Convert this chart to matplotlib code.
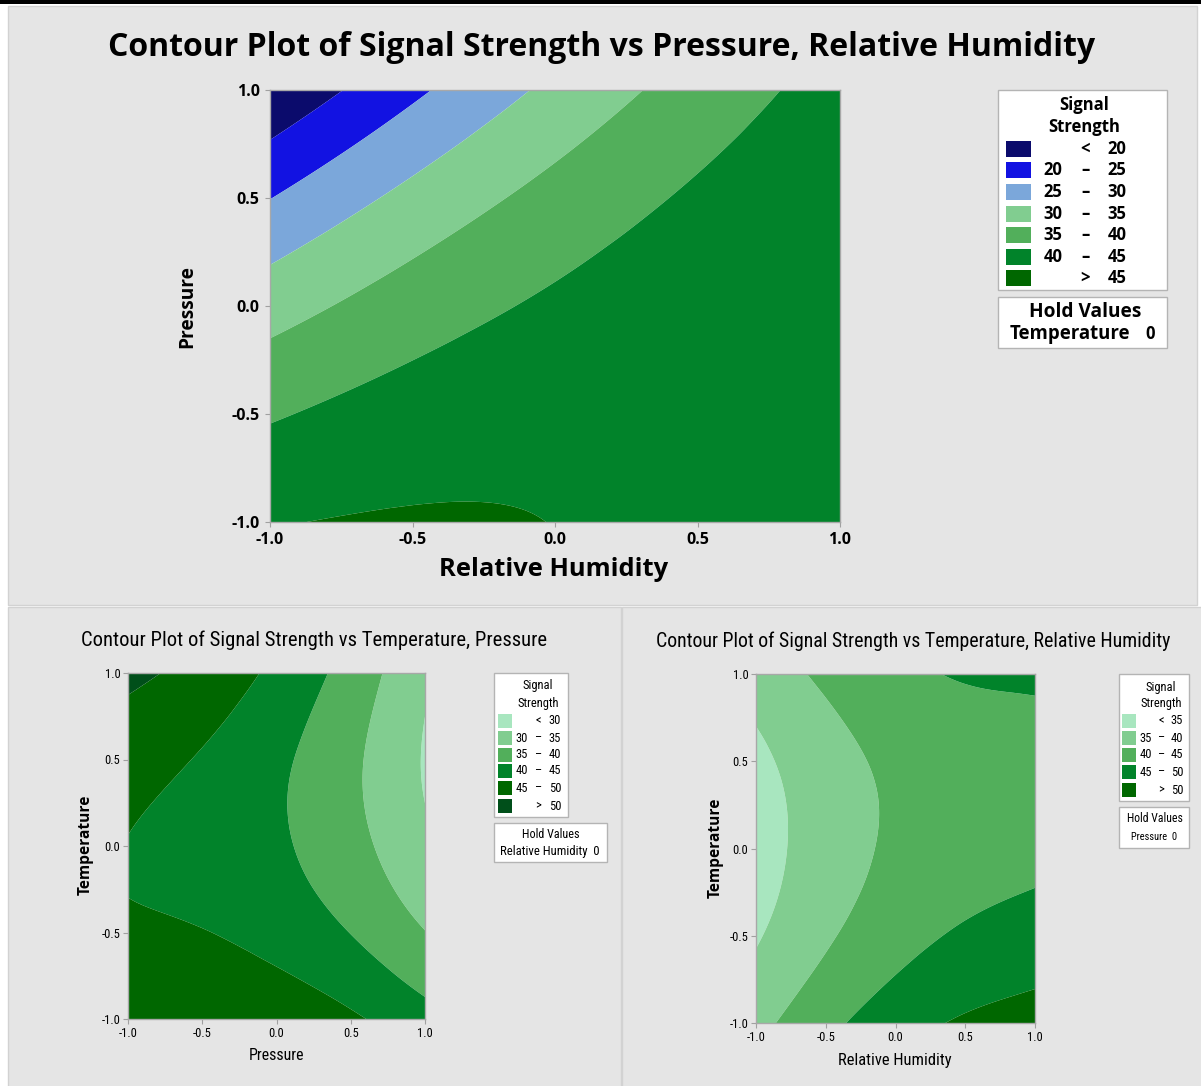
import numpy as np
import matplotlib
matplotlib.use("Agg")
import matplotlib.pyplot as plt
import matplotlib.tri as mtri
from matplotlib import font_manager
from matplotlib.font_manager import FontProperties
from matplotlib.patches import Rectangle

# ---------------- data ----------------
grid_vals = [-1.0, -0.5, 0.0, 0.5, 1.0]
tick_vals = [-1.0, -0.5, 0.0, 0.5, 1.0]
tick_labels = ["-1.0", "-0.5", "0.0", "0.5", "1.0"]

# Panel 1: rows = Pressure (-1 .. 1), cols = Relative Humidity (-1 .. 1), Temperature held at 0
signal_p_rh = [
    [44.71, 45.44, 44.93, 43.17, 40.17],
    [39.48, 42.14, 43.55, 43.72, 42.65],
    [32.87, 37.46, 40.80, 42.90, 43.75],
    [24.89, 31.40, 36.67, 40.70, 43.48],
    [15.53, 23.97, 31.17, 37.12, 41.83],
]
bounds_1 = [20, 25, 30, 35, 40, 45]
colors_1 = ["#0b0b6c", "#1212e2", "#7ba7da", "#81cd90", "#52af5b", "#01832a", "#006700"]

# Panel 2: rows = Temperature (-1 .. 1), cols = Pressure (-1 .. 1), Relative Humidity held at 0
signal_t_p = [
    [49.01, 49.34, 48.26, 45.75, 41.83],
    [45.65, 45.15, 43.24, 39.90, 35.14],
    [44.91, 43.58, 40.83, 36.66, 31.08],
    [46.78, 44.62, 41.04, 36.04, 29.62],
    [51.26, 48.27, 43.86, 38.03, 30.79],
]
bounds_2 = [30, 35, 40, 45, 50]
colors_2 = ["#a8e6bf", "#81cd90", "#52af5b", "#01832a", "#006700", "#004f1a"]

# Panel 3: rows = Temperature (-1 .. 1), cols = Relative Humidity (-1 .. 1), Pressure held at 0
signal_t_rh = [
    [38.54, 43.65, 47.79, 50.65, 52.24],
    [34.53, 39.31, 43.12, 45.65, 46.91],
    [32.97, 37.42, 40.90, 43.10, 44.03],
    [33.86, 37.98, 41.13, 43.00, 43.60],
    [37.20, 40.99, 43.81, 45.35, 45.62],
]
bounds_3 = [35, 40, 45, 50]
colors_3 = ["#a8e6bf", "#81cd90", "#52af5b", "#01832a", "#006700"]

# ---------------- fonts ----------------
ttf = font_manager.fontManager.ttflist


def pick_condensed():
    cands = [f for f in ttf
             if (f.stretch in ("condensed", "semi-condensed")
                 or "Narrow" in f.name or "Condensed" in f.name)
             and f.style == "normal" and f.weight in (400, "normal", "regular")]
    pref = ["Liberation Sans Narrow", "Roboto Condensed", "Open Sans Condensed",
            "Noto Sans", "Noto Sans Condensed", "DejaVu Sans", "Lato"]
    for p in pref:
        for f in cands:
            if f.name == p:
                return FontProperties(fname=f.fname)
    if cands:
        return FontProperties(fname=cands[0].fname)
    return FontProperties(family="Open Sans")


COND = pick_condensed()
SEMI = FontProperties(family="Open Sans", weight="bold")

W, H = 1201, 1086
fig = plt.figure(figsize=(W / 100, H / 100), dpi=100)
fig.patch.set_facecolor("white")
renderer = fig.canvas.get_renderer()


def fx(x):
    return x / W


def fy(y):
    return 1 - y / H


def txt(x, y, s, size, fp, fit=None, rot=0, ha="center", va="center"):
    t = fig.text(fx(x), fy(y), s, rotation=rot, ha=ha, va=va, color="black")
    t.set_fontproperties(fp.copy())
    t.set_fontsize(size)
    if fit:
        bb = t.get_window_extent(renderer)
        cur = bb.height if rot == 90 else bb.width
        t.set_fontsize(size * fit / cur)
    return t


def rect(l, t, r, b, fc, ec="none", lw=1.0, z=1):
    fig.add_artist(Rectangle((fx(l), fy(b)), (r - l) / W, (b - t) / H,
                             transform=fig.transFigure, facecolor=fc,
                             edgecolor=ec, linewidth=lw, zorder=z))


# ---------------- backgrounds ----------------
BG = "#e5e5e5"
rect(0, 0, W, 4, "black", z=-2)
rect(8, 6, 1197, 605, BG, ec="#d2d2d2", z=-2)
rect(8, 607, 621, H + 2, BG, ec="#d2d2d2", z=-2)
rect(622, 607, W + 2, H + 2, BG, ec="#d2d2d2", z=-2)


def make_axes(l, r, t, b, fp, fsize, pad):
    ax = fig.add_axes([fx(l), fy(b), (r - l) / W, (b - t) / H])
    ax.set_xlim(-1, 1)
    ax.set_ylim(-1, 1)
    ax.set_xticks(tick_vals)
    ax.set_yticks(tick_vals)
    ax.set_xticklabels(tick_labels)
    ax.set_yticklabels(tick_labels)
    for lab in ax.get_xticklabels() + ax.get_yticklabels():
        lab.set_fontproperties(fp.copy())
        lab.set_fontsize(fsize)
    ax.tick_params(direction="out", length=3.5, width=0.8, color="#a0a0a0",
                   pad=pad, labelcolor="black")
    for sp in ax.spines.values():
        sp.set_color("#a8a8a8")
        sp.set_linewidth(1.0)
    return ax


def draw_contour(ax, Z, bounds, colors):
    X, Y = np.meshgrid(grid_vals, grid_vals)
    tri = mtri.Triangulation(X.ravel(), Y.ravel())
    ref = mtri.UniformTriRefiner(tri)
    tr, zr = ref.refine_field(np.asarray(Z, float).ravel(), subdiv=5)
    lev = [zr.min() - 1] + list(bounds) + [zr.max() + 1]
    ax.tricontourf(tr, zr, levels=lev, colors=colors, antialiased=True)


def legend(box, title_ys, title_x, sw_x, sw_w, sw_h, rows_y, cols, bounds, colors,
           fp, fsize):
    l, t, r, b = box
    rect(l, t, r, b, "white", ec="#b4b4b4", lw=1.0)
    txt(title_x, title_ys[0], "Signal", fsize, fp)
    txt(title_x, title_ys[1], "Strength", fsize, fp)
    n = len(bounds) + 1
    for i in range(n):
        y = rows_y[i]
        rect(sw_x, y - sw_h / 2, sw_x + sw_w, y + sw_h / 2, colors[i])
        if i == 0:
            parts = ("", "<", str(bounds[0]))
        elif i == n - 1:
            parts = ("", ">", str(bounds[-1]))
        else:
            parts = (str(bounds[i - 1]), "\u2013", str(bounds[i]))
        for cx, s in zip(cols, parts):
            if s:
                txt(cx, y, s, fsize, fp)


# ---------------- Panel 1 ----------------
ax1 = make_axes(270, 840, 90, 522, SEMI, 11.5, 4)
draw_contour(ax1, signal_p_rh, bounds_1, colors_1)
txt(602, 48, "Contour Plot of Signal Strength vs Pressure, Relative Humidity", 22,
    SEMI, fit=985)
txt(554, 570, "Relative Humidity", 16, SEMI, fit=229)
txt(187, 306, "Pressure", 16, SEMI, fit=83, rot=90)
legend((998, 90, 1167, 290), (105, 127), 1084, 1006, 25, 16,
       [149, 170, 192, 214, 235, 257, 278], (1053, 1085, 1117),
       bounds_1, colors_1, SEMI, 12)
rect(998, 297, 1167, 348, "white", ec="#b4b4b4", lw=1.0)
txt(1085, 312, "Hold Values", 12, SEMI, fit=112)
txt(1070, 334, "Temperature", 12, SEMI, fit=120)
txt(1150, 334, "0", 12, SEMI)

# ---------------- Panel 2 ----------------
ax2 = make_axes(128, 425, 673, 1019, COND, 9, 2)
draw_contour(ax2, signal_t_p, bounds_2, colors_2)
txt(314, 640, "Contour Plot of Signal Strength vs Temperature, Pressure", 14,
    COND, fit=468)
txt(276, 1056, "Pressure", 12, COND, fit=55)
txt(86, 845, "Temperature", 11, SEMI, fit=100, rot=90)
legend((494, 673, 568, 817), (686, 703), 538, 498, 14, 14,
       [721, 738, 755, 771, 788, 806], (522, 538, 555),
       bounds_2, colors_2, COND, 9)
rect(494, 823, 607, 862, "white", ec="#b4b4b4", lw=1.0)
txt(551, 834, "Hold Values", 9, COND, fit=58)
txt(550, 852, "Relative Humidity  0", 9, COND, fit=100)

# ---------------- Panel 3 ----------------
ax3 = make_axes(756, 1035, 674, 1023, COND, 9, 2)
draw_contour(ax3, signal_t_rh, bounds_3, colors_3)
txt(913, 641, "Contour Plot of Signal Strength vs Temperature, Relative Humidity", 14,
    COND, fit=516)
txt(895, 1061, "Relative Humidity", 12, COND, fit=113)
txt(716, 848, "Temperature", 11, SEMI, fit=100, rot=90)
legend((1119, 674, 1189, 801), (687, 704), 1161, 1122, 14, 14,
       [721, 738, 755, 772, 790], (1146, 1161, 1177),
       bounds_3, colors_3, COND, 9)
rect(1119, 807, 1189, 848, "white", ec="#b4b4b4", lw=1.0)
txt(1155, 819, "Hold Values", 9, COND, fit=56)
txt(1154, 837, "Pressure  0", 9, COND, fit=46)

fig.savefig("out.png", dpi=100, facecolor=fig.get_facecolor())
